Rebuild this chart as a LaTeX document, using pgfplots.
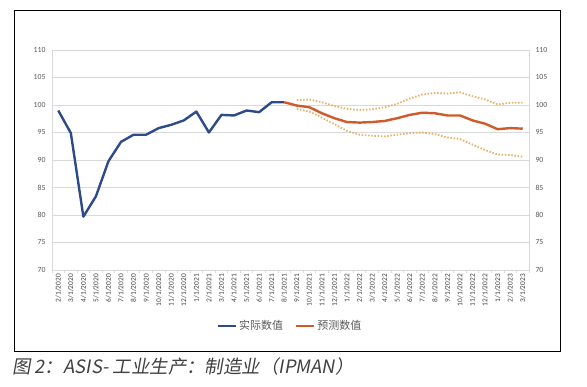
\documentclass[border=0pt]{standalone}
\usepackage{fontspec}
\usepackage{pgfplots}
\pgfplotsset{compat=1.18}
\setmainfont{Carlito}
\newfontfamily\cjk{Noto Sans CJK SC}
\newfontfamily\cjkit[FakeSlant=0.18]{Noto Sans CJK SC}
\definecolor{actblue}{HTML}{2D4A8A}
\definecolor{fcred}{HTML}{CF5A2A}
\definecolor{dotor}{HTML}{EAAE66}
\definecolor{gridg}{HTML}{D9D9D9}
\definecolor{labg}{HTML}{595959}
\definecolor{datg}{HTML}{404040}
\begin{document}
\begin{tikzpicture}[x=1bp,y=1bp]
\useasboundingbox (0,0) rectangle (587,386);
\draw[black, line width=1bp] (14,375) rectangle (560,35);
\begin{axis}[
  at={(52bp,116bp)}, anchor=south west,
  width=477bp, height=220bp, scale only axis,
  xmin=-0.5, xmax=37.5, ymin=70, ymax=110,
  ytick={70,75,...,110},
  ymajorgrids, grid style={gridg, line width=0.75bp},
  axis line style={gridg, line width=0.75bp},
  xtick={0,...,37},
  xticklabels={2/1/2020,3/1/2020,4/1/2020,5/1/2020,6/1/2020,7/1/2020,8/1/2020,9/1/2020,10/1/2020,11/1/2020,12/1/2020,1/1/2021,2/1/2021,3/1/2021,4/1/2021,5/1/2021,6/1/2021,7/1/2021,8/1/2021,9/1/2021,10/1/2021,11/1/2021,12/1/2021,1/1/2022,2/1/2022,3/1/2022,4/1/2022,5/1/2022,6/1/2022,7/1/2022,8/1/2022,9/1/2022,10/1/2022,11/1/2022,12/1/2022,1/1/2023,2/1/2023,3/1/2023},
  x tick label style={rotate=90, anchor=east, font=\fontsize{7.4}{8}\selectfont, text=datg, inner sep=1bp},
  xtick style={draw=none},
  extra x ticks={-0.5,0.5,...,37.5},
  extra x tick labels={},
  extra x tick style={xtick style={draw=gridg, line width=0.75bp}, major tick length=3bp, tick pos=bottom, tick align=outside, grid=none},
  xticklabel shift=3bp,
  ytick style={draw=none},
  y tick label style={font=\fontsize{7.8}{8}\selectfont, text=labg},
  yticklabel shift=3bp,
  /pgf/number format/assume math mode=true,
  legend style={at={(0.499,-0.2545)}, anchor=center, draw=none, fill=none,
    legend columns=2, font=\cjk\fontsize{11}{12}\selectfont, text=labg,
    /tikz/every even column/.append style={column sep=10bp}},
  legend image code/.code={\draw[#1] (0bp,0bp) -- (18bp,0bp);},
  clip=false,
]
\addplot[dotor, line width=1.8bp, dash pattern=on 1.5bp off 1.7bp, forget plot] coordinates {
(19,100.9)(20,101.0)(21,100.5)(22,99.8)(23,99.3)(24,99.1)(25,99.2)(26,99.6)(27,100.2)(28,101.2)(29,101.9)(30,102.2)(31,102.1)(32,102.3)(33,101.6)(34,101.0)(35,100.1)(36,100.4)(37,100.4)};
\addplot[dotor, line width=1.8bp, dash pattern=on 1.5bp off 1.7bp, forget plot] coordinates {
(19,99.3)(20,98.8)(21,97.7)(22,96.5)(23,95.3)(24,94.6)(25,94.4)(26,94.3)(27,94.6)(28,94.9)(29,95.0)(30,94.7)(31,94.1)(32,93.8)(33,92.8)(34,91.8)(35,91.0)(36,90.9)(37,90.6)};
\addplot[actblue, line width=2.4bp, line join=round] coordinates {
(0,99.0)(1,94.9)(2,79.7)(3,83.4)(4,89.8)(5,93.3)(6,94.6)(7,94.6)(8,95.8)(9,96.4)(10,97.2)(11,98.8)(12,95.0)(13,98.2)(14,98.1)(15,99.0)(16,98.7)(17,100.5)(18,100.5)};
\addlegendentry{实际数值}
\addplot[fcred, line width=2.4bp, line join=round] coordinates {
(18,100.5)(19,99.9)(20,99.6)(21,98.5)(22,97.6)(23,96.9)(24,96.8)(25,96.9)(26,97.1)(27,97.6)(28,98.2)(29,98.6)(30,98.5)(31,98.1)(32,98.1)(33,97.2)(34,96.6)(35,95.6)(36,95.8)(37,95.7)};
\addlegendentry{预测数值}
\end{axis}
\begin{axis}[
  at={(52bp,116bp)}, anchor=south west,
  width=477bp, height=220bp, scale only axis,
  xmin=-0.5, xmax=37.5, ymin=70, ymax=110,
  ytick={70,75,...,110},
  axis y line*=right, axis x line=none,
  axis line style={draw=none},
  ytick style={draw=none},
  y tick label style={font=\fontsize{7.8}{8}\selectfont, text=labg},
  yticklabel shift=3bp,
  /pgf/number format/assume math mode=true,
]
\addplot[draw=none] coordinates {(0,70)};
\end{axis}
\node[anchor=west, text=black!75, font=\cjkit\fontsize{18.5}{20}\selectfont, inner sep=0pt] at (12,20) {图 2：ASIS- 工业生产：制造业（IPMAN）};
\end{tikzpicture}
\end{document}
